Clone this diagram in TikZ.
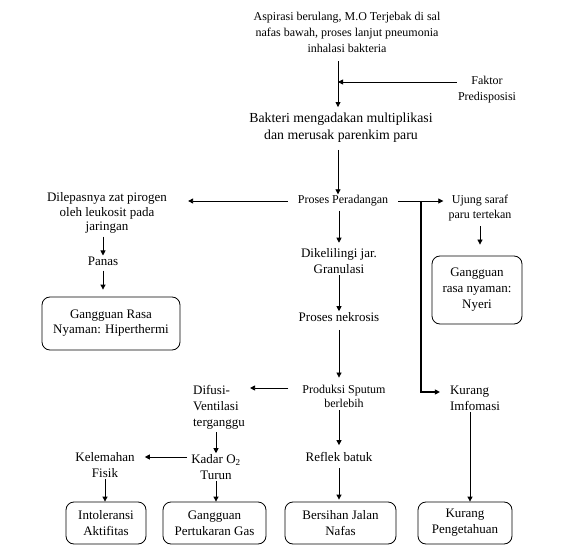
\documentclass[tikz,border=0pt]{standalone}
\usepackage{fontspec}
\setmainfont{Liberation Serif}
\usetikzlibrary{positioning,arrows.meta}

\begin{document}
\begin{tikzpicture}[
  x=1pt, y=-1pt,
  txt/.style={align=center, inner sep=1pt, font=\fontsize{13}{16}\selectfont},
  kecil/.style={txt, font=\fontsize{12}{14.5}\selectfont},
  box/.style={txt, draw, rounded corners=8pt, line width=0.8pt},
  arr/.style={-{Triangle[length=5pt,width=5pt]}, line width=0.8pt}
]
\useasboundingbox (0,0) rectangle (581,556);

% jalur utama
\node[txt, font=\fontsize{12}{16}\selectfont] (asp) at (347,32) {Aspirasi berulang, M.O Terjebak di sal\\nafas bawah, proses lanjut pneumonia\\inhalasi bakteria};
\node[txt, font=\fontsize{12}{16}\selectfont] (fak) at (487,90) {Faktor\\Predisposisi};
\node[txt, font=\fontsize{13.8}{17}\selectfont] (bak) at (341,128) {Bakteri mengadakan multiplikasi\\dan merusak parenkim paru};
\node[kecil, inner xsep=10pt] (rad) at (343,201) {Proses Peradangan};
\node[txt] (kel) at (339,261.5) {Dikelilingi jar.\\Granulasi};
\node[txt] (nek) at (339,317) {Proses nekrosis};
\node[kecil, inner xsep=14pt, font=\fontsize{12}{14}\selectfont] (spt) at (344,396) {Produksi Sputum\\berlebih};
\node[txt] (rfl) at (339,457) {Reflek batuk};
\node[box, minimum width=111pt, minimum height=42pt] (bjn) at (340.5,523) {Bersihan Jalan\\Nafas};

% cabang kiri atas
\node[txt, font=\fontsize{13}{14.5}\selectfont] (pir) at (107,213) {Dilepasnya zat pirogen\\oleh leukosit pada\\jaringan};
\node[txt] (pns) at (103,261) {Panas};
\node[box, font=\fontsize{13}{15}\selectfont, minimum width=138pt, minimum height=53pt] (hip) at (111,323.5) {Gangguan Rasa\\Nyaman: Hiperthermi};

% cabang kanan
\node[kecil, font=\fontsize{12}{15}\selectfont] (ujg) at (480,208) {Ujung saraf\\paru tertekan};
\node[box, minimum width=90pt, minimum height=68pt] (nyr) at (477,290) {Gangguan\\rasa nyaman:\\Nyeri};
\node[txt, align=left] (inf) at (475,398) {Kurang\\Imfomasi};
\node[box, minimum width=94pt, minimum height=42pt] (kpg) at (465,523) {Kurang\\Pengetahuan};

% cabang kiri bawah
\node[txt, align=left] (dif) at (219,407) {Difusi-\\Ventilasi\\terganggu};
\node[txt] (o2) at (216,467) {Kadar O\textsubscript{2}\\Turun};
\node[txt] (lem) at (105,465) {Kelemahan\\Fisik};
\node[box, minimum width=80pt, minimum height=42pt] (int) at (106,523) {Intoleransi\\Aktifitas};
\node[box, minimum width=103pt, minimum height=42pt] (gpg) at (214.5,523) {Gangguan\\Pertukaran Gas};

\coordinate (c1) at (338,82);
\coordinate (c2) at (421,392);

\draw[arr, shorten <=8pt, shorten >=5pt] (asp.south -| c1) -- (bak.north -| c1);
\draw[arr] (fak.west |- c1) -- (c1);
\draw[arr, shorten <=6pt] (c1 |- bak.south) -- (c1 |- rad.north);
\draw[arr, shorten >=20pt] (rad.west) -- (rad.west -| pir.east);
\draw[arr, shorten >=4pt] (rad.east) -- (rad.east -| ujg.west);
\draw[arr, line width=1.1pt, shorten >=9pt] (c2 |- rad.east) -- (c2) -- (c2 -| inf.west);

\draw[arr, shorten <=2pt] (pns.north |- pir.south) -- (pns.north);
\draw[arr, shorten <=4pt, shorten >=7pt] (pns.south) -- (pns.south |- hip.north);
\draw[arr, shorten <=4pt, shorten >=11pt] (ujg.south) -- (ujg.south |- nyr.north);

\draw[arr, shorten <=3pt, shorten >=5pt] (kel.north |- rad.south) -- (kel.north);
\draw[arr] (kel.south) -- (kel.south |- nek.north);
\draw[arr, shorten <=7pt, shorten >=6pt] (nek.south) -- (nek.south |- spt.north);
\draw[arr, shorten <=2pt, shorten >=6pt] (rfl.north |- spt.south) -- (rfl.north);
\draw[arr, shorten <=5pt, shorten >=2pt] (rfl.south) -- (rfl.south |- bjn.north);

\draw[arr, shorten >=4pt] ([yshift=8pt]spt.west) -- ([yshift=8pt]spt.west -| dif.east);
\draw[arr, shorten <=2pt] (o2.north |- dif.south) -- (o2.north);
\draw[arr, shorten <=3pt, shorten >=9pt] ([yshift=10pt]o2.west) -- ([yshift=10pt]o2.west -| lem.east);
\draw[arr] (o2.south) -- (o2.south |- gpg.north);
\draw[arr] (lem.south) -- (lem.south |- int.north);
\draw[arr] ([xshift=-5pt]inf.south) -- ([xshift=-5pt]inf.south |- kpg.north);
\end{tikzpicture}
\end{document}
